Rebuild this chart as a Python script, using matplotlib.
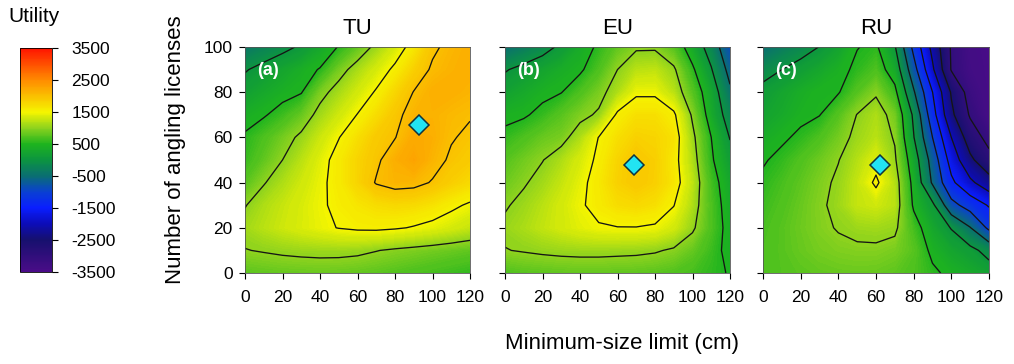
import numpy as np
import matplotlib
matplotlib.use("Agg")
import matplotlib.pyplot as plt
from matplotlib.colors import LinearSegmentedColormap, Normalize
from matplotlib.cm import ScalarMappable

plt.rcParams["font.family"] = ["Liberation Sans", "DejaVu Sans"]
plt.rcParams["axes.unicode_minus"] = False

# | data |--------------------------------------------------------------------------------------------------------------|
size_limits = [0, 10, 20, 30, 40, 50, 60, 70, 80, 90, 100, 110, 120]      # cm
licenses = [0, 10, 20, 30, 40, 50, 60, 70, 80, 90, 100]                   # rows, bottom to top

# total utility (TU), rows follow `licenses`
utility_tu = [
    [780, 800, 820, 830, 840, 830, 810, 780, 740, 700, 660, 620, 580],
    [990, 1020, 1050, 1070, 1080, 1080, 1060, 1010, 960, 920, 880, 840, 800],
    [1100, 1200, 1290, 1370, 1440, 1510, 1550, 1560, 1530, 1480, 1420, 1340, 1250],
    [985, 1150, 1260, 1360, 1460, 1560, 1650, 1720, 1760, 1740, 1670, 1560, 1460],
    [760, 980, 1150, 1300, 1440, 1600, 1800, 2020, 2100, 2080, 1980, 1850, 1750],
    [600, 800, 1000, 1200, 1400, 1600, 1800, 1950, 2150, 2280, 2100, 1960, 1880],
    [540, 700, 880, 1060, 1280, 1490, 1700, 1900, 1990, 2200, 2150, 2020, 1950],
    [380, 470, 620, 820, 1100, 1300, 1510, 1720, 1930, 2100, 2120, 2060, 2020],
    [180, 300, 400, 480, 900, 1120, 1320, 1530, 1780, 2010, 2150, 2150, 2100],
    [-30, 120, 250, 380, 520, 880, 1130, 1340, 1560, 1830, 2040, 2120, 2150],
    [-400, -250, -100, 50, 280, 520, 800, 1080, 1340, 1620, 1950, 2080, 2150],
]

# effort utility (EU)
utility_eu = [
    [720, 760, 780, 800, 810, 810, 800, 790, 770, 730, 660, 570, 480],
    [990, 1020, 1050, 1070, 1080, 1080, 1070, 1060, 1030, 960, 820, 620, 400],
    [1060, 1140, 1240, 1330, 1410, 1470, 1490, 1490, 1460, 1320, 1050, 700, 380],
    [970, 1080, 1200, 1330, 1460, 1600, 1720, 1760, 1700, 1510, 1150, 700, 330],
    [850, 970, 1100, 1250, 1420, 1620, 1830, 1920, 1840, 1650, 1220, 650, 280],
    [750, 870, 990, 1150, 1350, 1560, 1800, 1940, 1850, 1620, 1150, 550, 150],
    [580, 700, 830, 900, 1150, 1510, 1700, 1830, 1800, 1680, 1080, 500, -20],
    [420, 460, 590, 760, 920, 1040, 1560, 1700, 1700, 1560, 950, 320, -200],
    [200, 310, 420, 490, 700, 900, 1150, 1450, 1450, 1200, 750, 260, -420],
    [-30, 110, 240, 360, 450, 700, 1000, 1200, 1230, 1050, 560, 30, -650],
    [-500, -330, -150, 80, 330, 560, 800, 960, 960, 750, 300, -200, -900],
]

# relative utility (RU)
utility_ru = [
    [720, 750, 780, 810, 830, 840, 830, 790, 700, 560, 420, 320, 200],
    [700, 760, 830, 890, 930, 950, 950, 900, 760, 420, 250, 120, -150],
    [670, 760, 850, 940, 1020, 1080, 1100, 1060, 650, 280, -20, -480, -1100],
    [620, 720, 830, 950, 1080, 1250, 1300, 1200, 450, 100, -850, -1200, -1540],
    [560, 670, 790, 920, 1050, 1250, 1560, 1180, 380, -560, -1400, -1900, -2300],
    [470, 580, 720, 850, 990, 1180, 1380, 1050, 250, -700, -1700, -2400, -2850],
    [350, 450, 560, 700, 880, 1080, 1200, 970, 20, -1000, -2000, -2750, -3150],
    [220, 320, 430, 490, 740, 1010, 1150, 880, -80, -1300, -2400, -3050, -3400],
    [120, 250, 370, 460, 480, 740, 960, 605, -445, -1495, -2545, -3200, -3420],
    [-150, 0, 150, 280, 410, 560, 700, 300, -810, -1920, -3030, -3320, -3430],
    [-500, -330, -170, 10, 220, 490, 560, 40, -1130, -2140, -3050, -3350, -3450],
]

titles = ["TU", "EU", "RU"]
letters = ["(a)", "(b)", "(c)"]
optimum_size = [93, 69, 62]
optimum_licenses = [65.5, 48, 48]

cbar_ticks = [3500, 2500, 1500, 500, -500, -1500, -2500, -3500]
line_levels = [-3000, -2500, -2000, -1500, -1000, -500, 0, 500, 1000, 1500, 2000]

# | colour scale |------------------------------------------------------------------------------------------------------|
vmin, vmax = -3500, 3500
anchors = [
    (-3500, "#4a0c88"),
    (-2500, "#16106e"),
    (-2000, "#0c0cb8"),
    (-1500, "#0a1eff"),
    (-1000, "#0a40d2"),
    (-500, "#0a6e72"),
    (0, "#0c9440"),
    (500, "#1eb41e"),
    (1000, "#8cd21e"),
    (1500, "#f5f500"),
    (2500, "#ff8c00"),
    (3500, "#ff1400"),
]
cmap = LinearSegmentedColormap.from_list(
    "utility", [((v - vmin) / (vmax - vmin), c) for v, c in anchors]
)
norm = Normalize(vmin, vmax)

# | figure |------------------------------------------------------------------------------------------------------------|
W, H = 1014, 364
fig = plt.figure(figsize=(W / 100, H / 100), dpi=100)


def px_box(left, top, right, bottom):
    return [left / W, 1 - bottom / H, (right - left) / W, (bottom - top) / H]


panel_boxes = [(245, 47, 470, 273), (505, 47, 730, 273), (763, 47, 989, 273)]
grids = [utility_tu, utility_eu, utility_ru]
fill_levels = np.linspace(vmin, vmax, 281)

for i, grid in enumerate(grids):
    ax = fig.add_axes(px_box(*panel_boxes[i]))
    z = np.array(grid, dtype=float)
    ax.contourf(size_limits, licenses, z, levels=fill_levels, cmap=cmap, norm=norm,
                extend="both", antialiased=False)
    ax.contour(size_limits, licenses, z, levels=line_levels, colors="#151515",
               linewidths=0.95, negative_linestyles="solid")
    ax.plot(optimum_size[i], optimum_licenses[i], marker="D", ms=10.5, mfc="#22e4f2",
            mec="#0d3440", mew=1.1, zorder=5)
    ax.text(0.055, 0.935, letters[i], transform=ax.transAxes, color="white",
            fontweight="bold", fontsize=13, va="top", ha="left")
    ax.set_title(titles[i], fontsize=16, pad=9)
    ax.set_xlim(0, 120)
    ax.set_ylim(0, 100)
    ax.set_xticks([0, 20, 40, 60, 80, 100, 120])
    ax.set_yticks([0, 20, 40, 60, 80, 100])
    ax.tick_params(direction="out", length=4, width=0.8, labelsize=12.5)
    ax.tick_params(axis="x", pad=8)
    ax.tick_params(axis="y", pad=5)
    if i > 0:
        ax.set_yticklabels([])
    for s in ax.spines.values():
        s.set_linewidth(0.6)
        s.set_color("#555555")

# colour bar
cax = fig.add_axes(px_box(20, 48, 52, 272))
cb = fig.colorbar(ScalarMappable(norm=norm, cmap=cmap), cax=cax, ticks=cbar_ticks)
cb.ax.tick_params(direction="out", length=4, width=0.8, labelsize=12.5, pad=10)
cb.outline.set_linewidth(0.6)

fig.text(8 / W, 1 - 16 / H, "Utility", fontsize=15, va="center", ha="left")
fig.text(622 / W, 1 - 343 / H, "Minimum-size limit (cm)", fontsize=16, va="center", ha="center")
fig.text(176 / W, 1 - 150 / H, "Number of angling licenses", fontsize=16, rotation=90,
         va="center", ha="center")

fig.savefig("out.png", dpi=100)
